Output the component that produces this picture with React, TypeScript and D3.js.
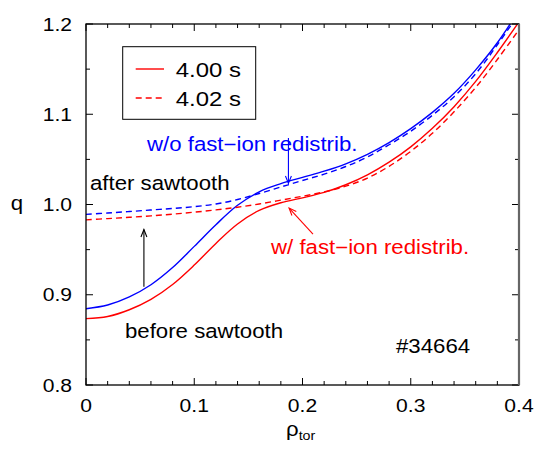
import React from 'react';
import * as d3 from 'd3';

// q profiles, rho_tor = 0 ... 0.40 in steps of 0.02
const rho = [0, 0.02, 0.04, 0.06, 0.08, 0.1, 0.12, 0.14, 0.16, 0.18, 0.2, 0.22, 0.24, 0.26, 0.28, 0.3, 0.32, 0.34, 0.36, 0.38, 0.4];
const qBlue400 = [0.8845, 0.8886, 0.8976, 0.9111, 0.9301, 0.9536, 0.9776, 0.9991, 1.0141, 1.0231, 1.0301, 1.0369, 1.0451, 1.0556, 1.0686, 1.0841, 1.1021, 1.1232, 1.1492, 1.1792, 1.2152];
const qBlue402 = [0.9891, 0.9906, 0.9922, 0.9939, 0.9956, 0.9976, 1.0006, 1.0055, 1.0122, 1.0194, 1.0266, 1.0336, 1.0421, 1.0526, 1.0662, 1.0812, 1.0989, 1.1194, 1.1449, 1.1770, 1.2114];
const qRed400 = [0.8735, 0.8759, 0.8834, 0.8949, 0.9114, 0.9329, 0.9569, 0.9784, 0.9934, 1.0019, 1.0074, 1.0134, 1.0219, 1.0329, 1.0469, 1.0639, 1.0844, 1.1084, 1.1364, 1.1684, 1.2024];
const qRed402 = [0.983, 0.9844, 0.9858, 0.9874, 0.9893, 0.9915, 0.994, 0.997, 1.0006, 1.0048, 1.0092, 1.014, 1.0203, 1.0293, 1.0423, 1.0589, 1.0789, 1.1027, 1.1297, 1.1607, 1.1937];

const xMajor = [0, 0.1, 0.2, 0.3, 0.4];
const xMajorLabels = ['0', '0.1', '0.2', '0.3', '0.4'];
const yMajor = [0.8, 0.9, 1.0, 1.1, 1.2];
const yMajorLabels = ['0.8', '0.9', '1.0', '1.1', '1.2'];
const legendLabels = ['4.00 s', '4.02 s'];

const FONT = '"Liberation Sans", Arial, Helvetica, sans-serif';
const SX = 1.14; // the figure's text is a bit wider than tall

const margin = { top: 24, right: 17, bottom: 65, left: 86 };
const width = 536;
const height = 450;
const innerW = width - margin.left - margin.right;
const innerH = height - margin.top - margin.bottom;

function T({ x, y, size, fill = '#000', anchor = 'start', children }: any) {
  return (
    <text
      transform={`translate(${x},${y}) scale(${SX},1)`}
      fontSize={size}
      fill={fill}
      textAnchor={anchor}
      fontFamily={FONT}
    >
      {children}
    </text>
  );
}

function Arrow({ x1, y1, x2, y2, color }: any) {
  const a = Math.atan2(y2 - y1, x2 - x1);
  const len = 8;
  const spread = 0.38;
  const p1 = [x2 - len * Math.cos(a - spread), y2 - len * Math.sin(a - spread)];
  const p2 = [x2 - len * Math.cos(a + spread), y2 - len * Math.sin(a + spread)];
  return (
    <g stroke={color} strokeWidth={1.1} fill="none">
      <line x1={x1} y1={y1} x2={x2} y2={y2} />
      <polyline points={`${p1[0]},${p1[1]} ${x2},${y2} ${p2[0]},${p2[1]}`} />
    </g>
  );
}

export default function App() {
  const x = d3.scaleLinear().domain([0, 0.4]).range([0, innerW]);
  const y = d3.scaleLinear().domain([0.8, 1.2]).range([innerH, 0]);

  const line = (vals: number[]) =>
    d3
      .line<number>()
      .x((_, i) => x(rho[i]))
      .y((d) => y(d))
      .curve(d3.curveCatmullRom.alpha(0.5))(vals) || '';

  const xMinor = d3.range(0, 0.4001, 0.02);
  const yMinor = d3.range(0.8, 1.2001, 0.05);

  const series = [
    { vals: qBlue400, color: '#0000ff', dash: null },
    { vals: qBlue402, color: '#0000ff', dash: '6,4' },
    { vals: qRed400, color: '#ff0000', dash: null },
    { vals: qRed402, color: '#ff0000', dash: '6,4' },
  ];

  const tickMajor = 7;
  const tickMinor = 4;

  return (
    <svg
      width={width}
      height={height}
      style={{ position: 'absolute', left: 0, top: 0, background: '#fff' }}
    >
      <defs>
        <clipPath id="plot">
          <rect x={0} y={0} width={innerW} height={innerH} />
        </clipPath>
      </defs>
      <g transform={`translate(${margin.left},${margin.top})`}>
        {/* curves */}
        <g clipPath="url(#plot)">
          {series.map((s, i) => (
            <path
              key={i}
              d={line(s.vals)}
              fill="none"
              stroke={s.color}
              strokeWidth={1.4}
              strokeDasharray={s.dash || undefined}
            />
          ))}
        </g>

        {/* ticks, inward on all four sides */}
        <g stroke="#000" strokeWidth={1}>
          {xMinor.map((v, i) => {
            const len = i % 5 === 0 ? tickMajor : tickMinor;
            return (
              <g key={'xt' + i}>
                <line x1={x(v)} x2={x(v)} y1={innerH} y2={innerH - len} />
                <line x1={x(v)} x2={x(v)} y1={0} y2={len} />
              </g>
            );
          })}
          {yMinor.map((v, i) => {
            const len = i % 2 === 0 ? tickMajor : tickMinor;
            return (
              <g key={'yt' + i}>
                <line x1={0} x2={len} y1={y(v)} y2={y(v)} />
                <line x1={innerW} x2={innerW - len} y1={y(v)} y2={y(v)} />
              </g>
            );
          })}
        </g>

        {/* frame */}
        <rect x={0} y={0} width={innerW} height={innerH} fill="none" stroke="#000" strokeWidth={1.3} />
        <line x1={innerW} x2={innerW} y1={0} y2={innerH} stroke="#666" strokeWidth={2.2} />

        {/* tick labels */}
        {xMajor.map((v, i) => (
          <T key={'xl' + i} x={x(v)} y={innerH + 27} size={18.5} anchor="middle">
            {xMajorLabels[i]}
          </T>
        ))}
        {yMajor.map((v, i) => (
          <T key={'yl' + i} x={-14} y={y(v) + 6.7} size={18.5} anchor="end">
            {yMajorLabels[i]}
          </T>
        ))}

        {/* legend */}
        <rect x={36.7} y={22.7} width={133} height={72.6} fill="#fff" stroke="#000" strokeWidth={1} />
        <line x1={49.7} x2={78} y1={45} y2={45} stroke="#ff0000" strokeWidth={1.4} />
        <line x1={49.7} x2={78} y1={74} y2={74} stroke="#ff0000" strokeWidth={1.4} strokeDasharray="6,4" />
        <T x={89.7} y={53.3} size={21}>{legendLabels[0]}</T>
        <T x={89.7} y={82} size={21}>{legendLabels[1]}</T>

        {/* annotations */}
        <T x={61} y={127} size={19.5} fill="#0000ff">w/o fast−ion redistrib.</T>
        <T x={185} y={230} size={19.5} fill="#ff0000">w/ fast−ion redistrib.</T>
        <T x={4} y={165.5} size={19.5}>after sawtooth</T>
        <T x={39} y={314} size={19.5}>before sawtooth</T>
        <T x={310} y={329} size={19.5}>#34664</T>

        <Arrow x1={x(0.0535)} y1={y(0.9088)} x2={x(0.0535)} y2={y(0.9723)} color="#000" />
        <Arrow x1={x(0.187)} y1={y(1.0737)} x2={x(0.187)} y2={y(1.0234)} color="#0000ff" />
        <Arrow x1={x(0.2097)} y1={y(0.9673)} x2={x(0.1876)} y2={y(0.9961)} color="#ff0000" />
      </g>

      {/* axis titles */}
      <T x={17} y={210} size={19.5} anchor="middle">q</T>
      <text transform={`translate(286,436) scale(${SX},1)`} fontFamily={FONT} fontSize={19.5}>
        ρ<tspan fontSize={12.5} dy={4}>tor</tspan>
      </text>
    </svg>
  );
}
